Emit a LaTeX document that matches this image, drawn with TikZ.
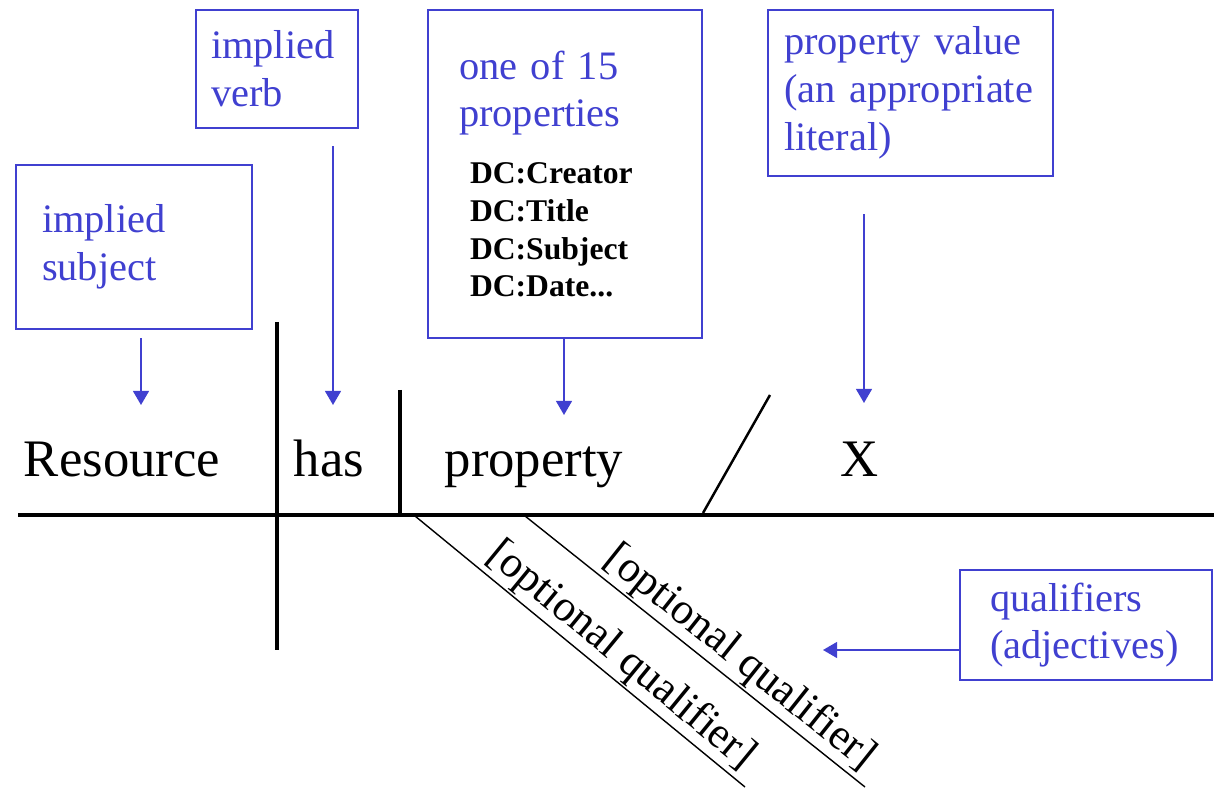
\documentclass[tikz,border=0pt]{standalone}
\usepackage{fontspec}
\setmainfont{Liberation Serif}
\usetikzlibrary{arrows.meta}
\definecolor{noteblue}{RGB}{64,64,208}

\begin{document}
\begin{tikzpicture}[x=0.02cm, y=-0.02cm,
    note/.style={draw=noteblue, line width=1.6pt, text=noteblue, align=left,
        font=\fontsize{23}{27.2}\selectfont, inner ysep=0pt},
    pointer/.style={noteblue, line width=1.1pt, -{Triangle[width=9pt, length=8pt]}},
    word/.style={font=\fontsize{30}{36}\selectfont, anchor=base},
    mainline/.style={line width=2.3pt},
    qualtext/.style={font=\fontsize{25}{30}\selectfont, sloped, above, inner sep=1pt}]
    \useasboundingbox (0,0) rectangle (1214,790);

    % the sentence
    \node[word] (res) at (122,477) {Resource};
    \node[word] (has) at (329,477) {has};
    \node[word] (prop) at (534,477) {property};
    \node[word] (val) at (860,477) {X};

    \draw[mainline] (18,515) -- (1214,515);
    \draw[mainline] (277,322) -- (277,650);
    \draw[mainline] (400,390) -- (400,515);
    \draw[line width=1.4pt] (703,513) -- (770,395);

    % qualifiers under the line
    \draw[line width=0.8pt] (415,516) -- node[qualtext, pos=0.58] (qualA) {[optional qualifier]} (745,787);
    \draw[line width=0.8pt] (525,516) -- node[qualtext, pos=0.59] (qualB) {[optional qualifier]} (865,787);

    % notes
    \node[note, inner xsep=0.52cm, text width=3.68cm, minimum height=3.28cm] (subj) at (134,247) {implied\\subject};
    \node[note, inner xsep=0.3cm, text width=2.64cm, minimum height=2.36cm] (verb) at (277,69) {implied\\verb};
    \node[note, inner xsep=0.62cm, text width=4.24cm, minimum height=6.56cm] (props) at (565,174)
        {one of 15\\properties\par\vspace{10.8pt}%
        {\color{black}\bfseries\fontsize{18}{21.5}\selectfont\leftskip=0.22cm
        DC:Creator\\DC:Title\\DC:Subject\\DC:Date...\par}};
    \node[note, inner xsep=0.32cm, text width=5.06cm, minimum height=3.32cm] (value) at (910.5,93)
        {property value\\(an appropriate\\literal)};
    \node[note, inner xsep=0.6cm, text width=3.84cm, minimum height=2.2cm] (qual) at (1086,625)
        {qualifiers\\(adjectives)};

    % arrows
    \coordinate (subjtip) at (141,405);
    \draw[pointer, shorten <=0.16cm] (subj.south -| subjtip) -- (subjtip);
    \coordinate (verbtip) at (333,405);
    \draw[pointer, shorten <=0.34cm] (verb.south -| verbtip) -- (verbtip);
    \coordinate (proptip) at (564,415);
    \draw[pointer] (props.south -| proptip) -- (proptip);
    \coordinate (valtip) at (864,403);
    \draw[pointer, shorten <=0.74cm] (value.south -| valtip) -- (valtip);
    \coordinate (qualtip) at (823,650);
    \draw[pointer] (qual.west |- qualtip) -- (qualtip);
\end{tikzpicture}
\end{document}
